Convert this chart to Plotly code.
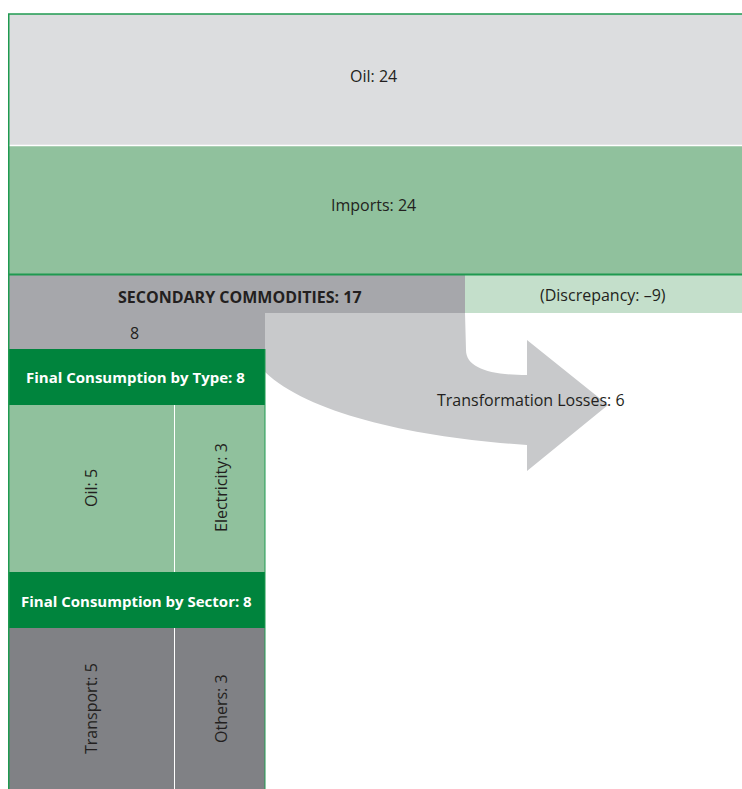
import plotly.graph_objects as go

# ---- data ----
primary_labels = ["Oil", "Imports"]
primary_values = [24, 24]
secondary_label = "SECONDARY COMMODITIES"
secondary_value = 17
discrepancy_label = "Discrepancy"
discrepancy_value = -9
to_final_value = 8
losses_label = "Transformation Losses"
losses_value = 6
type_header = "Final Consumption by Type"
type_labels = ["Oil", "Electricity"]
type_values = [5, 3]
sector_header = "Final Consumption by Sector"
sector_labels = ["Transport", "Others"]
sector_values = [5, 3]

# ---- geometry (page pixel layout) ----
W, H = 742, 789
L, R = 8, 742
col_r = 265
col_split = 174.5
sec_split = 465

C_OIL = "#dcdddf"
C_IMP = "#90c19d"
C_BORDER = "#1f9a50"
C_DARK = "#00843d"
C_SEC = "#a6a7ab"
C_ARROW = "#c8c9cb"
C_DISC = "#c4dfcb"
C_SECTOR = "#808185"
C_TXT = "#231f20"
FONT = "Open Sans"

shapes = []
ann = []

def rect(x0, y0, x1, y1, color):
    shapes.append(dict(type="rect", xref="x", yref="y", x0=x0, y0=y0, x1=x1, y1=y1,
                       fillcolor=color, line=dict(width=0), layer="below"))

def text(x, y, s, color=C_TXT, bold=False, angle=0, size=16):
    ann.append(dict(x=x, y=y, xref="x", yref="y", text=f"<b>{s}</b>" if bold else s,
                    showarrow=False, font=dict(family=FONT, size=size, color=color),
                    textangle=angle, xanchor="center", yanchor="middle"))

# primary boxes
prim_rows = [(14, 145.5, C_OIL, 76), (145.5, 274.5, C_IMP, 205)]
for (y0, y1, c, ty), lab, v in zip(prim_rows, primary_labels, primary_values):
    rect(L, y0, R + 10, y1, c)
    text(373, ty, f"{lab}: {v}")

# secondary band + discrepancy
rect(L, 274.5, sec_split, 313, C_SEC)
rect(sec_split, 274.5, R + 10, 313, C_DISC)
text(240, 297, f"{secondary_label}: {secondary_value}", bold=True, size=16)
text(603, 295, f"({discrepancy_label}: \u2013{abs(discrepancy_value)})")
rect(L, 313, col_r, 349, C_SEC)
text(134, 333, f"{to_final_value}")

# arrow (transformation losses)
arrow_path = ("M 265,313 L 465,313 L 466,350 C 466,368 490,375 527,375 "
              "L 527,340 L 608,405 L 527,471 L 527,445 "
              "C 420,438 310,415 265,372 Z")
shapes.append(dict(type="path", xref="x", yref="y", path=arrow_path,
                   fillcolor=C_ARROW, line=dict(width=0), layer="below"))
text(531, 400, f"{losses_label}: {losses_value}")

# final consumption by type
rect(L, 349, col_r, 405, C_DARK)
text(135, 377, f"{type_header}: {sum(type_values)}", color="white", bold=True, size=15)
rect(L, 405, col_split, 572, C_IMP)
rect(col_split, 405, col_r, 572, C_IMP)
text(91, 488, f"{type_labels[0]}: {type_values[0]}", angle=-90)
text(221, 488, f"{type_labels[1]}: {type_values[1]}", angle=-90)

# final consumption by sector
rect(L, 572, col_r, 628, C_DARK)
text(136, 601, f"{sector_header}: {sum(sector_values)}", color="white", bold=True, size=15)
rect(L, 628, col_split, H + 10, C_SECTOR)
rect(col_split, 628, col_r, H + 10, C_SECTOR)
text(91, 709, f"{sector_labels[0]}: {sector_values[0]}", angle=-90)
text(221, 709, f"{sector_labels[1]}: {sector_values[1]}", angle=-90)

# lines
def line(x0, y0, x1, y1, color, w):
    shapes.append(dict(type="line", xref="x", yref="y", x0=x0, y0=y0, x1=x1, y1=y1,
                       line=dict(color=color, width=w), layer="above"))

line(L, 145.5, R + 10, 145.5, "white", 1.5)
line(L, 274.5, R + 10, 274.5, C_BORDER, 2)
line(col_split, 405, col_split, 572, "white", 1)
line(col_split, 628, col_split, H + 10, "white", 1)
line(col_r, 349, col_r, H + 10, C_BORDER, 1)
line(L, 14, R + 10, 14, C_BORDER, 1.5)
line(L + 0.75, 14, L + 0.75, H + 10, C_BORDER, 1.5)

fig = go.Figure()
fig.add_trace(go.Scatter(x=[0, W], y=[0, H], mode="markers",
                         marker=dict(opacity=0), hoverinfo="skip", showlegend=False))
fig.update_layout(
    width=W, height=H, margin=dict(l=0, r=0, t=0, b=0),
    paper_bgcolor="white", plot_bgcolor="white",
    xaxis=dict(range=[0, W], visible=False, fixedrange=True),
    yaxis=dict(range=[H, 0], visible=False, fixedrange=True),
    shapes=shapes, annotations=ann, showlegend=False,
)
fig.write_html("out.html", config={"displayModeBar": False},
               post_script="document.body.style.margin='0';document.documentElement.style.overflow='hidden';")
